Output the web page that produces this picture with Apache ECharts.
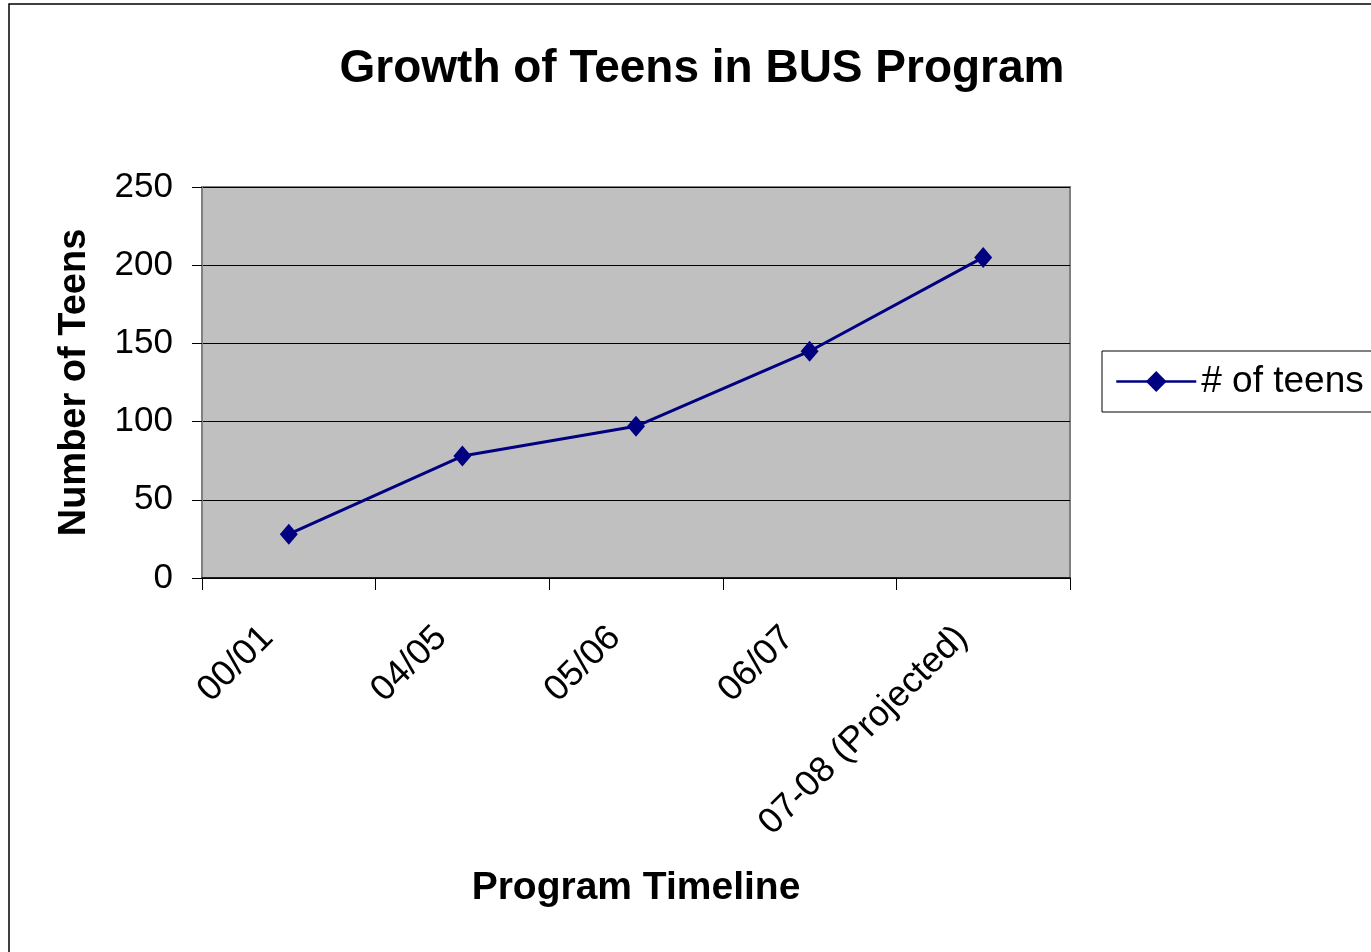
<!DOCTYPE html>
<html>
<head>
<meta charset="utf-8">
<script src="https://cdn.jsdelivr.net/npm/echarts@6/dist/echarts.min.js"></script>
<style>
html,body{margin:0;padding:0;background:#fff;}
#chart{width:1371px;height:952px;}
</style>
</head>
<body>
<div id="chart"></div>
<script>
const categories = ['00/01', '04/05', '05/06', '06/07', '07-08 (Projected)'];
const teens = [28, 78, 97, 145, 205];
const seriesName = '# of teens';
const yTicks = { min: 0, max: 250, interval: 50 };

const FONT = '"Liberation Sans", Arial, sans-serif';
const chart = echarts.init(document.getElementById('chart'), null, { renderer: 'canvas' });

chart.setOption({
  backgroundColor: '#ffffff',
  animation: false,
  graphic: [{
    type: 'rect',
    shape: { x: 9, y: 4, width: 1420, height: 1000 },
    style: { fill: 'none', stroke: '#000', lineWidth: 1.5 },
    silent: true,
    z: -10
  }],
  title: {
    text: 'Growth of Teens in BUS Program',
    left: 697,
    top: 41,
    textAlign: 'center',
    textStyle: { fontFamily: FONT, fontWeight: 'bold', fontSize: 46, color: '#000' }
  },
  legend: {
    orient: 'vertical',
    left: 1102,
    top: 351,
    padding: [12, 30, 12, 13],
    backgroundColor: '#fff',
    borderColor: '#000',
    borderWidth: 1,
    borderRadius: 0,
    itemWidth: 80,
    itemHeight: 26,
    lineStyle: { width: 2.5, color: '#000080' },
    textStyle: { fontFamily: FONT, fontSize: 37, color: '#000', lineHeight: 36 },
    data: [seriesName]
  },
  grid: {
    left: 202, top: 187, right: 301, bottom: 374,
    show: true,
    backgroundColor: '#C0C0C0',
    borderColor: '#808080',
    borderWidth: 2
  },
  xAxis: {
    type: 'category',
    data: categories,
    boundaryGap: true,
    name: 'Program Timeline',
    nameLocation: 'middle',
    nameGap: 291,
    nameTextStyle: { fontFamily: FONT, fontWeight: 'bold', fontSize: 39, color: '#000' },
    axisLine: { show: true, lineStyle: { color: '#000', width: 1.5 } },
    axisTick: { show: true, alignWithLabel: false, length: 12, lineStyle: { color: '#000', width: 1 } },
    axisLabel: {
      interval: 0,
      rotate: 45,
      margin: 33,
      padding: [0, 30, 0, 0],
      fontFamily: FONT,
      fontSize: 36,
      color: '#000'
    },
    splitLine: { show: false }
  },
  yAxis: {
    type: 'value',
    min: yTicks.min,
    max: yTicks.max,
    interval: yTicks.interval,
    name: 'Number of Teens',
    nameLocation: 'middle',
    nameGap: 108,
    nameTextStyle: { fontFamily: FONT, fontWeight: 'bold', fontSize: 38, color: '#000' },
    axisLine: { show: true, lineStyle: { color: '#808080', width: 2 } },
    axisTick: { show: true, length: 10, lineStyle: { color: '#000', width: 1 } },
    axisLabel: { margin: 29, fontFamily: FONT, fontSize: 35, color: '#000' },
    splitLine: { show: true, lineStyle: { color: '#000', width: 1 } }
  },
  series: [{
    name: seriesName,
    type: 'line',
    data: teens,
    symbol: 'diamond',
    symbolSize: [18, 21],
    itemStyle: { color: '#000080' },
    lineStyle: { color: '#000080', width: 3 },
    z: 5
  }]
});
</script>
</body>
</html>
